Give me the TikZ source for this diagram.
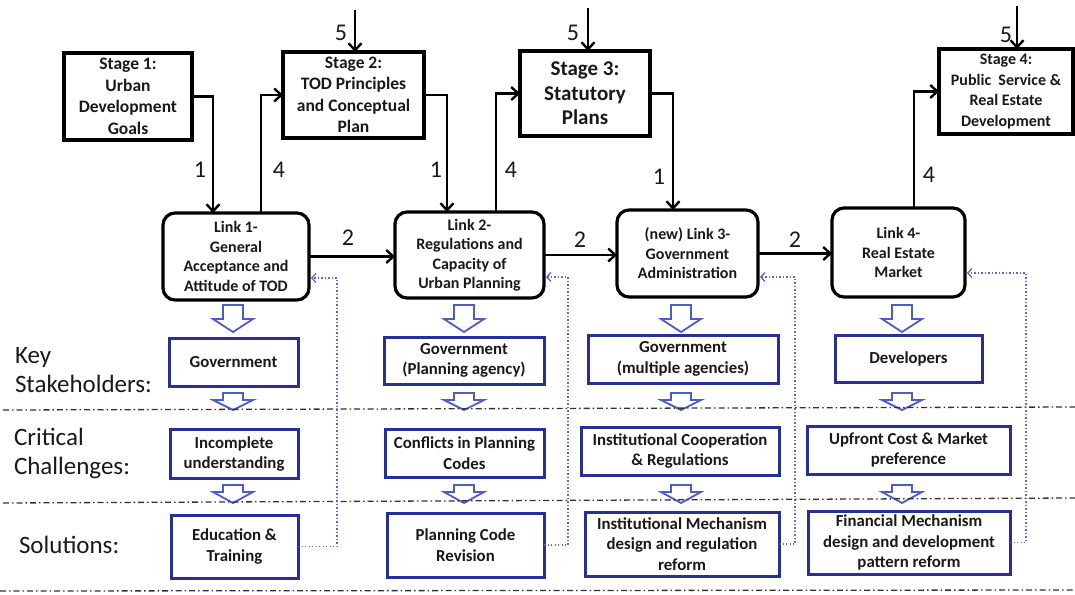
\documentclass[tikz,border=0pt]{standalone}
\usepackage{fontspec}
\setmainfont{Carlito}
\usetikzlibrary{arrows.meta}
\definecolor{boxblue}{RGB}{38,48,150}
\definecolor{hollowblue}{RGB}{78,92,200}
\definecolor{fbblue}{RGB}{90,105,205}
\definecolor{sepgray}{RGB}{50,50,50}
\definecolor{inktext}{RGB}{25,25,25}
% hollow block arrow pointing down: centre x, top, start of head, tip
\newcommand\hollowdown[4]{%
  \draw[hollow] (#1-10,#2) -- (#1+10,#2) -- (#1+10,#3) -- (#1+20,#3) -- (#1,#4)
    -- (#1-20,#3) -- (#1-10,#3) -- cycle;}
\begin{document}
\begin{tikzpicture}[x=1pt,y=-1pt,
  every node/.style={inner sep=0pt, outer sep=0pt, align=center, text=inktext},
  stagebox/.style={draw=black, line width=3.2pt, fill=white, font=\bfseries\fontsize{17.5}{21.5}\selectfont},
  linkbox/.style={draw=black, line width=3.2pt, rounded corners=12pt, fill=white, font=\bfseries\fontsize{16}{19.5}\selectfont},
  bluebox/.style={draw=boxblue, line width=3pt, fill=white, font=\bfseries\fontsize{16.8}{20.5}\selectfont},
  rowlabel/.style={anchor=west, align=left, font=\fontsize{25}{29}\selectfont},
  num/.style={font=\fontsize{24}{24}\selectfont},
  arr/.style={line width=2.4pt, -{Straight Barb[length=7pt,width=13pt]}},
  fb/.style={draw=fbblue, line width=1.4pt, dash pattern=on 1.3pt off 2.2pt,
    -{Straight Barb[length=4pt,width=9pt,line width=1.3pt]}, shorten >=2pt},
  hollow/.style={draw=hollowblue, line width=1.8pt, fill=white, line join=miter},
  sep/.style={draw=sepgray, line width=1.3pt, dash pattern=on 6pt off 3pt on 1.5pt off 3pt}]
\useasboundingbox (0,0) rectangle (1075,594);

% stages
\node[stagebox, minimum width=128, minimum height=87] (s1) at (128,96.5)
  {Stage 1:\\Urban\\Development\\Goals};
\node[stagebox, minimum width=141, minimum height=86] (s2) at (353.5,95)
  {Stage 2:\\TOD Principles\\and Conceptual\\Plan};
\node[stagebox, minimum width=130, minimum height=85, font=\bfseries\fontsize{21}{24.5}\selectfont] (s3) at (585,93.5)
  {Stage 3:\\Statutory\\Plans};
\node[stagebox, minimum width=134, minimum height=85, font=\bfseries\fontsize{16}{20.5}\selectfont] (s4) at (1006,91.5)
  {Stage 4:\\Public~ Service \&\\Real Estate\\Development};

% links
\node[linkbox, minimum width=146, minimum height=87] (l1) at (236,256.5)
  {Link 1-\\General\\Acceptance and\\Attitude of TOD};
\node[linkbox, minimum width=149, minimum height=86] (l2) at (469.5,255)
  {Link 2-\\Regulations and\\Capacity of\\Urban Planning};
\node[linkbox, minimum width=141, minimum height=87] (l3) at (687.5,253.5)
  {(new) Link 3-\\Government\\Administration};
\node[linkbox, minimum width=133, minimum height=89] (l4) at (898.5,252.5)
  {Link 4-\\Real Estate\\Market};

% stakeholders / challenges / solutions
\node[bluebox, minimum width=129, minimum height=48] (g1) at (233.5,362) {Government};
\node[bluebox, minimum width=128, minimum height=49] (c1) at (234,454) {Incomplete\\understanding};
\node[bluebox, minimum width=127, minimum height=63] (e1) at (234.5,546.5) {Education \&\\Training};

\node[bluebox, minimum width=160, minimum height=47] (g2) at (464,360.5) {Government\\(Planning agency)};
\node[bluebox, minimum width=159, minimum height=48] (c2) at (464.5,453) {Conflicts in Planning\\Codes};
\node[bluebox, minimum width=157, minimum height=64] (e2) at (465.5,545) {Planning Code\\Revision};

\node[bluebox, minimum width=190, minimum height=48] (g3) at (683,359) {Government\\(multiple agencies)};
\node[bluebox, minimum width=198, minimum height=48] (c3) at (680,451) {Institutional Cooperation\\\& Regulations};
\node[bluebox, minimum width=194, minimum height=64] (e3) at (682,544) {Institutional Mechanism\\design and regulation\\reform};

\node[bluebox, minimum width=147, minimum height=47] (g4) at (908.5,358.5) {Developers};
\node[bluebox, minimum width=203, minimum height=48] (c4) at (908.5,450) {Upfront Cost \& Market\\preference};
\node[bluebox, minimum width=202, minimum height=63] (e4) at (909,542.5) {Financial Mechanism\\design and development\\pattern reform};

% row labels
\node[rowlabel] (rk) at (15,370) {Key\\Stakeholders:};
\node[rowlabel] (rc) at (14,453) {Critical\\Challenges:};
\node[rowlabel] (rs) at (19,545) {Solutions:};

% hollow arrows down each column
\foreach \cx in {233,464,681,902}{
  \hollowdown{\cx}{305}{319}{332}
  \hollowdown{\cx}{393}{400}{410}
  \hollowdown{\cx}{485}{492}{503}
}

% row separators
\draw[sep] (3,410) -- (1075,407);
\draw[sep] (3,503) -- (1075,498);
\draw[sep] (0,591) -- (1075,590);

% main flow
\draw[arr] (s1.east) -| ([xshift=-23pt]l1.north);
\draw[arr] ([xshift=25pt]l1.north) |- (s2.west);
\draw[arr] (s2.east) -| ([xshift=-22.5pt]l2.north);
\draw[arr] ([xshift=26.5pt]l2.north) |- (s3.west);
\draw[arr] (s3.east) -| ([xshift=-14.5pt]l3.north);
\draw[arr] ([xshift=15.5pt]l4.north) |- (s4.west);
\draw[arr] (l1.east) -- (l1.east -| l2.west);
\draw[arr] (l2.east) -- (l2.east -| l3.west);
\draw[arr] (l3.east) -- (l3.east -| l4.west);

% external inputs
\coordinate (i2) at (355,10);
\coordinate (i3) at (588,8);
\coordinate (i4) at (1017,6);
\draw[arr] (i2) -- (i2 |- s2.north);
\draw[arr] (i3) -- (i3 |- s3.north);
\draw[arr] (i4) -- (i4 |- s4.north);

% flow numbers
\node[num] (n5a) at (341,33) {5};
\node[num] (n5b) at (573,33) {5};
\node[num] (n5c) at (1006,35) {5};
\node[num] (n1a) at (200,170) {1};
\node[num] (n4a) at (279,170) {4};
\node[num] (n1b) at (436,170) {1};
\node[num] (n4b) at (511,170) {4};
\node[num] (n1c) at (659,177) {1};
\node[num] (n4c) at (929,175) {4};
\node[num] (n2a) at (348,238) {2};
\node[num] (n2b) at (580,240) {2};
\node[num] (n2c) at (795,240) {2};

% feedback from solutions to links
\coordinate (f1) at (337,278);
\coordinate (f2) at (568,277);
\coordinate (f3) at (795,277);
\coordinate (f4) at (1026,273);
\draw[fb] (e1.east) -| (f1) -- (f1 -| l1.east);
\draw[fb] (e2.east) -| (f2) -- (f2 -| l2.east);
\draw[fb] (e3.east) -| (f3) -- (f3 -| l3.east);
\draw[fb] (e4.east) -| (f4) -- (f4 -| l4.east);
\end{tikzpicture}
\end{document}
